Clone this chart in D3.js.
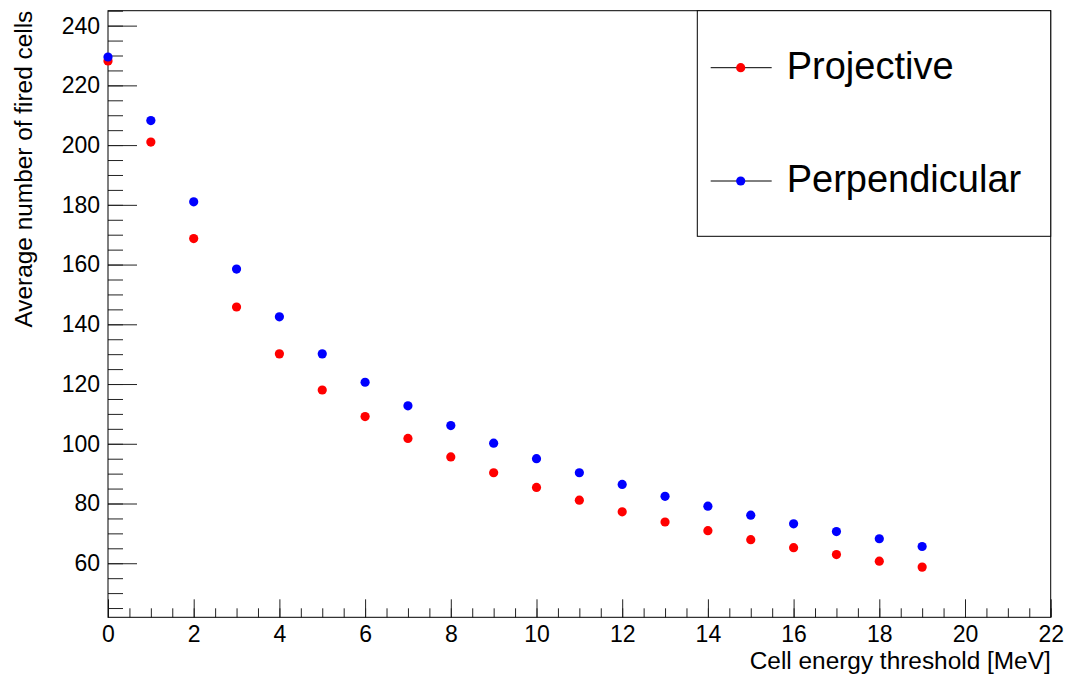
<!DOCTYPE html>
<html>
<head>
<meta charset="utf-8">
<script src="https://cdn.jsdelivr.net/npm/d3@7"></script>
<style>
  body { margin: 0; background: #fff; }
  text { font-family: "Liberation Sans", Arial, Helvetica, sans-serif; }
</style>
</head>
<body>
<div id="chart"></div>
<script>
// Cell energy threshold [MeV]
const thresholds = [0, 1, 2, 3, 4, 5, 6, 7, 8, 9, 10, 11, 12, 13, 14, 15, 16, 17, 18, 19];

// average number of fired cells
const projective = [228.2, 201, 168.7, 145.8, 130.1, 118, 109.1, 101.8, 95.6, 90.3,
                    85.4, 81.1, 77.2, 73.8, 70.9, 67.9, 65.2, 62.9, 60.7, 58.7];
const perpendicular = [229.5, 208.2, 181, 158.5, 142.5, 130.1, 120.6, 112.7, 106.1, 100.2,
                       95.0, 90.3, 86.4, 82.4, 79.1, 76.1, 73.2, 70.6, 68.2, 65.6];

const seriesNames = ["Projective", "Perpendicular"];
const seriesColors = ["#ff0000", "#0000ff"];

const xMajor = [0, 2, 4, 6, 8, 10, 12, 14, 16, 18, 20, 22];
const yMajor = [60, 80, 100, 120, 140, 160, 180, 200, 220, 240];

const W = 1069, H = 675;
const margin = { top: 10.7, right: 18.3, bottom: 57.7, left: 108 };
const width = W - margin.left - margin.right;
const height = H - margin.top - margin.bottom;

const svg = d3.select("#chart")
    .append("svg")
    .attr("width", W)
    .attr("height", H);

const g = svg.append("g")
    .attr("transform", `translate(${margin.left}, ${margin.top})`);

const xScale = d3.scaleLinear().domain([0, 22]).range([0, width]);
const yScale = d3.scaleLinear().domain([41.9, 245]).range([height, 0]);

// minor ticks
g.append("g")
    .attr("transform", `translate(0, ${height})`)
    .call(d3.axisBottom(xScale).tickValues(d3.range(0, 22.01, 0.5)).tickSize(-9).tickFormat(""))
    .call(a => a.select(".domain").remove());

g.append("g")
    .call(d3.axisLeft(yScale).tickValues(d3.range(45, 245.1, 5)).tickSize(-15).tickFormat(""))
    .call(a => a.select(".domain").remove());

// major ticks with labels
g.append("g")
    .attr("transform", `translate(0, ${height})`)
    .call(d3.axisBottom(xScale).tickValues(xMajor).tickSize(-18).tickPadding(8))
    .call(a => a.select(".domain").remove())
    .call(a => a.selectAll("text").attr("font-size", 23).attr("fill", "#000")
        .style("font-family", "'Liberation Sans', Arial, sans-serif"));

g.append("g")
    .call(d3.axisLeft(yScale).tickValues(yMajor).tickSize(-29).tickPadding(8))
    .call(a => a.select(".domain").remove())
    .call(a => a.selectAll("text").attr("font-size", 23).attr("fill", "#000")
        .style("font-family", "'Liberation Sans', Arial, sans-serif"));

g.selectAll(".tick line").attr("stroke", "#222").attr("stroke-width", 1);

// frame
g.append("rect")
    .attr("x", 0).attr("y", 0)
    .attr("width", width).attr("height", height)
    .attr("fill", "none")
    .attr("stroke", "#000")
    .attr("stroke-width", 1);

// axis titles
svg.append("text")
    .attr("x", W - margin.right)
    .attr("y", 669)
    .attr("text-anchor", "end")
    .attr("font-size", 24.4)
    .attr("fill", "#000")
    .text("Cell energy threshold [MeV]");

svg.append("text")
    .attr("transform", "rotate(-90)")
    .attr("x", -margin.top)
    .attr("y", 32)
    .attr("text-anchor", "end")
    .attr("font-size", 24.4)
    .attr("fill", "#000")
    .text("Average number of fired cells");

// points
const allSeries = [projective, perpendicular];
allSeries.forEach((vals, s) => {
    g.append("g")
        .selectAll("circle")
        .data(vals)
        .enter()
        .append("circle")
        .attr("cx", (d, i) => xScale(thresholds[i]))
        .attr("cy", d => yScale(d))
        .attr("r", 4.6)
        .attr("fill", seriesColors[s]);
});

// legend
const legend = svg.append("g");
legend.append("rect")
    .attr("x", 697.3).attr("y", margin.top)
    .attr("width", W - margin.right - 697.3)
    .attr("height", 236.3 - margin.top)
    .attr("fill", "#fff")
    .attr("stroke", "#000")
    .attr("stroke-width", 1);

const legendY = [67.7, 181];
seriesNames.forEach((name, i) => {
    const row = legend.append("g").attr("transform", `translate(0, ${legendY[i]})`);
    row.append("line")
        .attr("x1", 710.7).attr("x2", 771.7)
        .attr("y1", 0).attr("y2", 0)
        .attr("stroke", "#000").attr("stroke-width", 1);
    row.append("circle")
        .attr("cx", 740.7).attr("cy", 0).attr("r", 4.6)
        .attr("fill", seriesColors[i]);
    row.append("text")
        .attr("x", 786.7).attr("y", 11)
        .attr("font-size", 38)
        .attr("fill", "#000")
        .text(name);
});
</script>
</body>
</html>
